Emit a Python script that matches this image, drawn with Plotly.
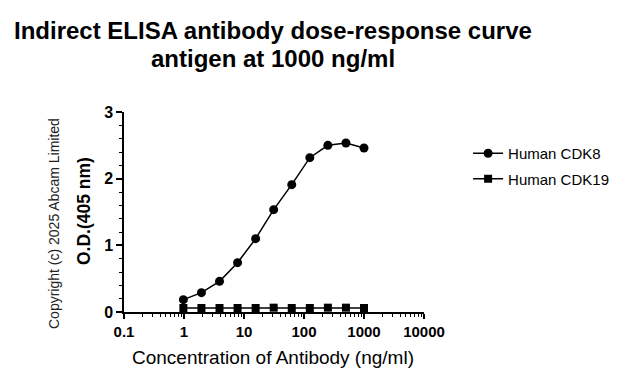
import plotly.graph_objects as go

conc = [1000/1024, 1000/512, 1000/256, 1000/128, 1000/64, 1000/32, 1000/16, 1000/8, 1000/4, 1000/2, 1000]
cdk8 = [0.185, 0.29, 0.46, 0.74, 1.10, 1.535, 1.91, 2.315, 2.50, 2.535, 2.46]
cdk19 = [0.06, 0.06, 0.06, 0.06, 0.06, 0.065, 0.06, 0.06, 0.065, 0.065, 0.06]

x_ticks = [0.1, 1, 10, 100, 1000, 10000]
x_tick_text = ["0.1", "1", "10", "100", "1000", "10000"]
y_ticks = [0, 1, 2, 3]

FONT = "Liberation Sans, Arial, sans-serif"
W, H = 626, 382
L, R, T, B = 124, 202, 112, 70
PW, PH = W - L - R, H - T - B


def px_x(x):
    return (x - L) / PW


def px_y(y):
    return (H - B - y) / PH


fig = go.Figure()
fig.add_trace(go.Scatter(x=conc, y=cdk8, mode="lines+markers", name="Human CDK8",
                         legendgroup="a",
                         line=dict(color="black", width=1.5),
                         marker=dict(symbol="circle", size=9, color="black")))
fig.add_trace(go.Scatter(x=conc, y=cdk19, mode="lines+markers", name="Human CDK19",
                         legendgroup="b",
                         line=dict(color="black", width=1.5),
                         marker=dict(symbol="square", size=8, color="black")))

minor_x = [m * 10**e for e in range(-1, 4) for m in range(2, 10)]

fig.update_layout(
    width=W, height=H,
    margin=dict(l=L, r=R, t=T, b=B),
    paper_bgcolor="white", plot_bgcolor="white",
    font=dict(family=FONT, color="black"),
    showlegend=True,
    legend=dict(x=1.147, y=0.875, xanchor="left", yanchor="top",
                font=dict(size=15, family=FONT), bgcolor="rgba(0,0,0,0)",
                traceorder="grouped", tracegroupgap=3, itemwidth=30),
    xaxis=dict(type="log", range=[-1, 4], showgrid=False, zeroline=False,
               showline=True, linecolor="black", linewidth=1.5,
               ticks="outside", ticklen=5, tickwidth=1.5, tickcolor="black",
               tickvals=x_ticks, ticktext=x_tick_text,
               tickfont=dict(size=15, family=FONT, color="black", weight="bold"),
               minor=dict(tickvals=minor_x, ticks="outside", ticklen=3, tickwidth=1, tickcolor="black")),
    yaxis=dict(range=[0, 3], showgrid=False, zeroline=False,
               showline=True, linecolor="black", linewidth=1.5,
               ticks="outside", ticklen=6, tickwidth=1.5, tickcolor="black",
               tickvals=y_ticks,
               tickfont=dict(size=16, family=FONT, color="black", weight="bold"),
               minor=dict(dtick=0.2, ticks="outside", ticklen=3, tickwidth=1, tickcolor="black")),
    annotations=[
        dict(text="<b>Indirect ELISA antibody dose-response curve</b>", x=px_x(273), y=px_y(30),
             xref="paper", yref="paper", showarrow=False, xanchor="center", yanchor="middle",
             font=dict(size=24, family=FONT)),
        dict(text="<b>antigen at 1000 ng/ml</b>", x=px_x(273), y=px_y(58),
             xref="paper", yref="paper", showarrow=False, xanchor="center", yanchor="middle",
             font=dict(size=24, family=FONT)),
        dict(text="Concentration of Antibody (ng/ml)", x=px_x(273), y=px_y(357),
             xref="paper", yref="paper", showarrow=False, xanchor="center", yanchor="middle",
             font=dict(size=19, family=FONT)),
        dict(text="<b>O.D.(405 nm)</b>", x=px_x(84), y=px_y(211), xref="paper", yref="paper",
             textangle=-90, showarrow=False, font=dict(size=17.5, family=FONT),
             xanchor="center", yanchor="middle"),
        dict(text="Copyright (c) 2025 Abcam Limited", x=px_x(54), y=px_y(224), xref="paper", yref="paper",
             textangle=-90, showarrow=False, font=dict(size=14, family=FONT, color="#222"),
             xanchor="center", yanchor="middle"),
    ],
)

fig.write_html("out.html")
